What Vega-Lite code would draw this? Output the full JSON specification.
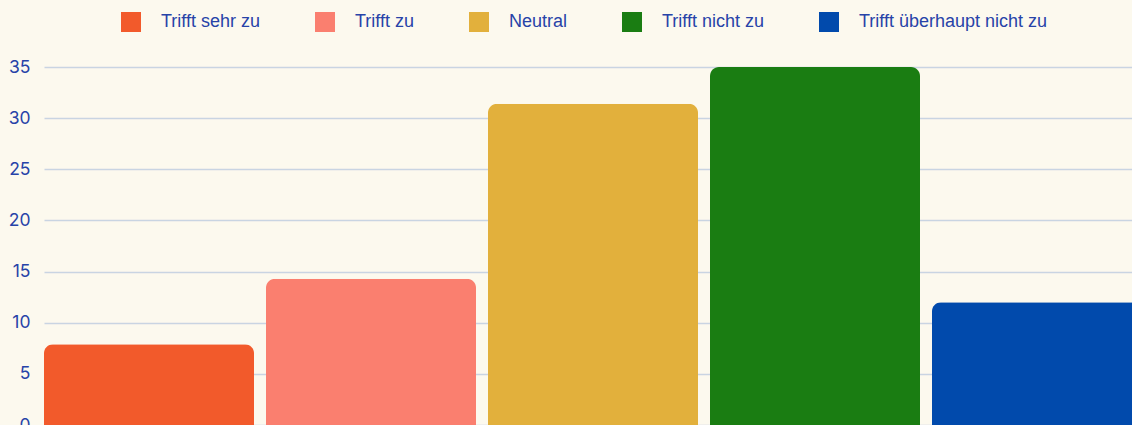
{
  "$schema": "https://vega.github.io/schema/vega-lite/v6.json",
  "autosize": {"type": "none"},
  "width": 1098,
  "height": 358,
  "padding": {"left": 44, "top": 67, "right": 0, "bottom": 0},
  "background": "#FCF9EE",
  "config": {
    "view": {"stroke": null},
    "font": "Liberation Sans"
  },
  "data": {
    "values": [
      {"antwort": "Trifft sehr zu", "wert": 7.9},
      {"antwort": "Trifft zu", "wert": 14.3},
      {"antwort": "Neutral", "wert": 31.4},
      {"antwort": "Trifft nicht zu", "wert": 35},
      {"antwort": "Trifft überhaupt nicht zu", "wert": 12}
    ]
  },
  "mark": {"type": "bar", "cornerRadiusTopLeft": 9, "cornerRadiusTopRight": 9},
  "encoding": {
    "x": {
      "field": "antwort",
      "type": "nominal",
      "sort": null,
      "scale": {"paddingInner": 0.054, "paddingOuter": 0},
      "axis": null
    },
    "y": {
      "field": "wert",
      "type": "quantitative",
      "scale": {"domain": [0, 35], "nice": false},
      "axis": {
        "title": null,
        "values": [0, 5, 10, 15, 20, 25, 30, 35],
        "domain": false,
        "ticks": false,
        "labelPadding": 14,
        "labelFont": "Inter",
        "labelFontSize": 17.5,
        "labelColor": "#2743A8",
        "gridColor": "#C9D4E2",
        "gridWidth": 1.5
      }
    },
    "color": {
      "field": "antwort",
      "type": "nominal",
      "sort": null,
      "scale": {
        "domain": ["Trifft sehr zu", "Trifft zu", "Neutral", "Trifft nicht zu", "Trifft überhaupt nicht zu"],
        "range": ["#F25A2B", "#FA7F6F", "#E2B03C", "#1A7D12", "#014AAC"]
      },
      "legend": {
        "title": null,
        "orient": "none",
        "direction": "horizontal",
        "legendX": 77,
        "legendY": -55,
        "symbolType": "square",
        "symbolSize": 400,
        "symbolStrokeWidth": 0,
        "labelFontSize": 18,
        "labelColor": "#2743A8",
        "labelFont": "Liberation Sans",
        "labelOffset": 20,
        "columnPadding": 54,
        "labelLimit": 400
      }
    }
  }
}
